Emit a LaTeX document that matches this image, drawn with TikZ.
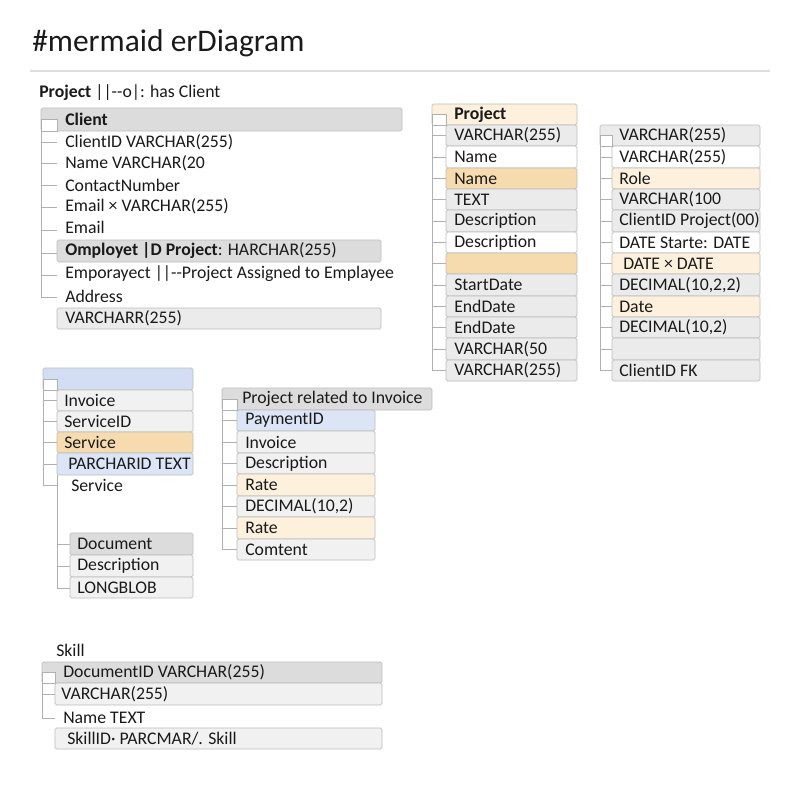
\documentclass[tikz,border=0pt]{standalone}
\usepackage{fontspec}
\setmainfont{Carlito}
\usepackage{xcolor}
\definecolor{hdrgray}{HTML}{DCDCDC}
\definecolor{rowgray}{HTML}{EBEBEB}
\definecolor{rowlt}{HTML}{F1F1F1}
\definecolor{peachlt}{HTML}{FDF0DD}
\definecolor{peachdk}{HTML}{F6DBAE}
\definecolor{bluehdr}{HTML}{D3DEF4}
\definecolor{bluerow}{HTML}{DCE5F6}
\definecolor{cellline}{HTML}{BDBDBD}
\definecolor{treeline}{HTML}{B0B0B0}
\definecolor{rulegray}{HTML}{DDDDDD}
\definecolor{inktext}{HTML}{1A1A1A}

\begin{document}
\begin{tikzpicture}[x=0.75pt,y=0.75pt,yscale=-1,xscale=1,
  cell/.style={draw=cellline, line width=0.6pt, rounded corners=1.2pt},
  notch/.style={draw=treeline, line width=0.6pt, fill=white},
  tree/.style={draw=treeline, line width=0.6pt},
  rowtxt/.style={anchor=west, inner sep=0.75pt, text=inktext, font=\fontsize{13.3}{16}\selectfont},
  hdrtxt/.style={rowtxt, font=\fontsize{13.3}{16}\selectfont\bfseries}]
\useasboundingbox (0,0) rectangle (800,800);
\fill[white] (0,0) rectangle (800,800);

% Title
\draw (31,43) node [anchor=west][inner sep=0.75pt][text=inktext][font=\fontsize{23.6}{28}\selectfont] (title) {\#mermaid erDiagram};
%Straight Lines
\draw [draw=rulegray, line width=0.8pt] (30,71) -- (770,71) ;
% Text Node
\draw (38,93) node [rowtxt] (relHas) {\textbf{Project} |{}|-{}-o|: has Client};

%Shape: Client header
\draw [cell, fill=hdrgray] (41,108) rectangle (402,131) ;
\draw [notch] (41,119.5) rectangle (57,131) ;
\draw [tree] (41,131) -- (41,297) -- (57,297) (41,142) -- (57,142) (41,163) -- (57,163) (41,185) -- (57,185) (41,207) -- (57,207) (41,230) -- (57,230) (41,253) -- (57,253) (41,275) -- (57,275) ;
%Shape: Client rows
\draw [cell, fill=hdrgray] (57,240) rectangle (381,262) ;
\draw [cell, fill=rowgray] (57,308) rectangle (381,329) ;
% Text Node
\draw (64,119.5) node [hdrtxt] (client) {Client};
\draw (64,142) node [rowtxt] (clientId) {ClientID VARCHAR(255)};
\draw (64,163) node [rowtxt] (clientName) {Name VARCHAR(20};
\draw (64,185) node [rowtxt] (clientContact) {ContactNumber};
\draw (64,206) node [rowtxt] (clientEmailType) {Email × VARCHAR(255)};
\draw (64,227) node [rowtxt] (clientEmail) {Email};
\draw (64,251) node [rowtxt] (employee) {\textbf{Omployet |D Project}: HARCHAR(255)};
\draw (64,274) node [rowtxt] (relAssigned) {Emporayect |{}|-{}-Project Assigned to Emplayee};
\draw (64,296) node [rowtxt] (clientAddress) {Address};
\draw (64,318.5) node [rowtxt] (clientAddrType) {VARCHARR(255)};

%Shape: Project header
\draw [cell, fill=peachlt] (432,104) rectangle (577,125) ;
\draw [notch] (432,114.5) rectangle (446,125) ;
\draw [tree] (432,125) -- (432,370.5) -- (446,370.5) (432,135.5) -- (446,135.5) (432,157) -- (446,157) (432,178.5) -- (446,178.5) (432,199.5) -- (446,199.5) (432,221) -- (446,221) (432,242.5) -- (446,242.5) (432,263.5) -- (446,263.5) (432,285) -- (446,285) (432,306.5) -- (446,306.5) (432,327.5) -- (446,327.5) (432,349) -- (446,349) ;
%Shape: Project rows
\draw [cell, fill=rowgray] (446,125) rectangle (577,146) ;
\draw [cell, fill=white] (446,146) rectangle (577,168) ;
\draw [cell, fill=peachdk] (446,168) rectangle (577,189) ;
\draw [cell, fill=rowgray] (446,189) rectangle (577,210) ;
\draw [cell, fill=rowgray] (446,210) rectangle (577,232) ;
\draw [cell, fill=white] (446,232) rectangle (577,253) ;
\draw [cell, fill=peachdk] (446,253) rectangle (577,274) ;
\draw [cell, fill=rowgray] (446,274) rectangle (577,296) ;
\draw [cell, fill=rowgray] (446,296) rectangle (577,317) ;
\draw [cell, fill=rowgray] (446,317) rectangle (577,338) ;
\draw [cell, fill=rowgray] (446,338) rectangle (577,360) ;
\draw [cell, fill=rowgray] (446,360) rectangle (577,381) ;
% Text Node
\draw (453,114.5) node [hdrtxt] (project) {Project};
\draw (453,135.5) node [rowtxt] (projectId) {VARCHAR(255)};
\draw (453,157) node [rowtxt] (projectName) {Name};
\draw (453,178.5) node [rowtxt] (projectNameB) {Name};
\draw (453,199.5) node [rowtxt] (projectText) {TEXT};
\draw (453,221) node [rowtxt] (projectDesc) {Description};
\draw (453,242.5) node [rowtxt] (projectDescB) {Description};
\draw (453,285) node [rowtxt] (projectStart) {StartDate};
\draw (453,306.5) node [rowtxt] (projectEnd) {EndDate};
\draw (453,327.5) node [rowtxt] (projectEndB) {EndDate};
\draw (453,349) node [rowtxt] (projectStatus) {VARCHAR(50};
\draw (453,370.5) node [rowtxt] (projectClient) {VARCHAR(255)};

%Shape: Assignment header
\draw [cell, fill=rowgray] (600,125) rectangle (760,146) ;
\draw [notch] (600,135.5) rectangle (612,146) ;
\draw [tree] (600,146) -- (600,370.5) -- (612,370.5) (600,157) -- (612,157) (600,178.5) -- (612,178.5) (600,199.5) -- (612,199.5) (600,221) -- (612,221) (600,242.5) -- (612,242.5) (600,263.5) -- (612,263.5) (600,285) -- (612,285) (600,306.5) -- (612,306.5) (600,327.5) -- (612,327.5) (600,349) -- (612,349) ;
%Shape: Assignment rows
\draw [cell, fill=white] (612,146) rectangle (760,168) ;
\draw [cell, fill=peachlt] (612,168) rectangle (760,189) ;
\draw [cell, fill=rowgray] (612,189) rectangle (760,210) ;
\draw [cell, fill=rowgray] (612,210) rectangle (760,232) ;
\draw [cell, fill=white] (612,232) rectangle (760,253) ;
\draw [cell, fill=peachlt] (612,253) rectangle (760,274) ;
\draw [cell, fill=rowgray] (612,274) rectangle (760,296) ;
\draw [cell, fill=peachlt] (612,296) rectangle (760,317) ;
\draw [cell, fill=rowgray] (612,317) rectangle (760,338) ;
\draw [cell, fill=rowgray] (612,338) rectangle (760,360) ;
\draw [cell, fill=rowgray] (612,360) rectangle (760,381) ;
% Text Node
\draw (618,135.5) node [rowtxt] (assignId) {VARCHAR(255)};
\draw (618,157) node [rowtxt] (assignType) {VARCHAR(255)};
\draw (618,178.5) node [rowtxt] (assignRole) {Role};
\draw (618,199.5) node [rowtxt] (assignRoleType) {VARCHAR(100};
\draw (618,221) node [rowtxt] (assignClient) {ClientID Project(00)};
\draw (618,242.5) node [rowtxt] (assignStart) {DATE Starte: DATE};
\draw (622,263.5) node [rowtxt] (assignDates) {DATE × DATE};
\draw (618,285) node [rowtxt] (assignAmount) {DECIMAL(10,2,2)};
\draw (618,306.5) node [rowtxt] (assignDate) {Date};
\draw (618,327.5) node [rowtxt] (assignTotal) {DECIMAL(10,2)};
\draw (618,370.5) node [rowtxt] (assignFk) {ClientID FK};

%Shape: Invoice header
\draw [cell, fill=bluehdr] (43,368) rectangle (193,390) ;
\draw [notch] (43,379) rectangle (57,390) ;
\draw [tree] (43,390) -- (43,485) -- (57,485) (43,400.5) -- (57,400.5) (43,421.5) -- (57,421.5) (43,442.5) -- (57,442.5) (43,464) -- (57,464) ;
%Shape: Invoice rows
\draw [cell, fill=rowlt] (57,390) rectangle (193,411) ;
\draw [cell, fill=rowlt] (57,411) rectangle (193,432) ;
\draw [cell, fill=peachdk] (57,432) rectangle (193,453) ;
\draw [cell, fill=bluerow] (57,453) rectangle (193,475) ;
% Text Node
\draw (63,400.5) node [rowtxt] (invoice) {Invoice};
\draw (63,421.5) node [rowtxt] (serviceId) {ServiceID};
\draw (63,442.5) node [rowtxt] (service) {Service};
\draw (67,464) node [rowtxt] (serviceType) {PARCHARID TEXT};
\draw (70,485.5) node [rowtxt] (serviceB) {Service};

%Shape: Document rows
\draw [tree] (57,475) -- (57,588) -- (70,588) (57,544) -- (70,544) (57,566) -- (70,566) ;
\draw [cell, fill=hdrgray] (70,533) rectangle (193,555) ;
\draw [cell, fill=rowlt] (70,555) rectangle (193,577) ;
\draw [cell, fill=rowlt] (70,577) rectangle (193,598) ;
% Text Node
\draw (76,544) node [rowtxt] (document) {Document};
\draw (76,566) node [rowtxt] (docDesc) {Description};
\draw (76,587.5) node [rowtxt] (docBlob) {LONGBLOB};

%Shape: Payment header
\draw [cell, fill=hdrgray] (222,388) rectangle (432,410) ;
\draw [notch] (222,399) rectangle (237,410) ;
\draw [tree] (222,410) -- (222,549.5) -- (237,549.5) (222,420.5) -- (237,420.5) (222,442) -- (237,442) (222,463.5) -- (237,463.5) (222,485) -- (237,485) (222,506.5) -- (237,506.5) (222,528) -- (237,528) ;
%Shape: Payment rows
\draw [cell, fill=bluerow] (237,410) rectangle (375,431) ;
\draw [cell, fill=rowlt] (237,431) rectangle (375,453) ;
\draw [cell, fill=rowlt] (237,453) rectangle (375,474) ;
\draw [cell, fill=peachlt] (237,474) rectangle (375,496) ;
\draw [cell, fill=rowlt] (237,496) rectangle (375,517) ;
\draw [cell, fill=peachlt] (237,517) rectangle (375,539) ;
\draw [cell, fill=rowlt] (237,539) rectangle (375,560) ;
% Text Node
\draw (241,399) node [rowtxt] (relInvoice) {Project related to Invoice};
\draw (244,420.5) node [rowtxt] (paymentId) {PaymentID};
\draw (244,442) node [rowtxt] (payInvoice) {Invoice};
\draw (244,463.5) node [rowtxt] (payDesc) {Description};
\draw (244,485) node [rowtxt] (payRate) {Rate};
\draw (244,506.5) node [rowtxt] (payAmount) {DECIMAL(10,2)};
\draw (244,528) node [rowtxt] (payRateB) {Rate};
\draw (244,549.5) node [rowtxt] (payContent) {Comtent};

%Shape: Skill header
\draw [cell, fill=hdrgray] (42,662) rectangle (382,683) ;
\draw [notch] (42,672.5) rectangle (55,683) ;
\draw [tree] (42,683) -- (42,718) -- (55,718) (42,694) -- (55,694) ;
%Shape: Skill rows
\draw [cell, fill=rowlt] (55,683) rectangle (382,705) ;
\draw [cell, fill=rowlt] (55,728) rectangle (382,749) ;
% Text Node
\draw (55,650) node [rowtxt] (skill) {Skill};
\draw (62,672.5) node [rowtxt] (skillDoc) {DocumentID VARCHAR(255)};
\draw (60,694) node [rowtxt] (skillType) {VARCHAR(255)};
\draw (62,717.5) node [rowtxt] (skillName) {Name TEXT};
\draw (66,738.5) node [rowtxt] (skillId) {SkillID· PARCMAR/. Skill};

\end{tikzpicture}
\end{document}
